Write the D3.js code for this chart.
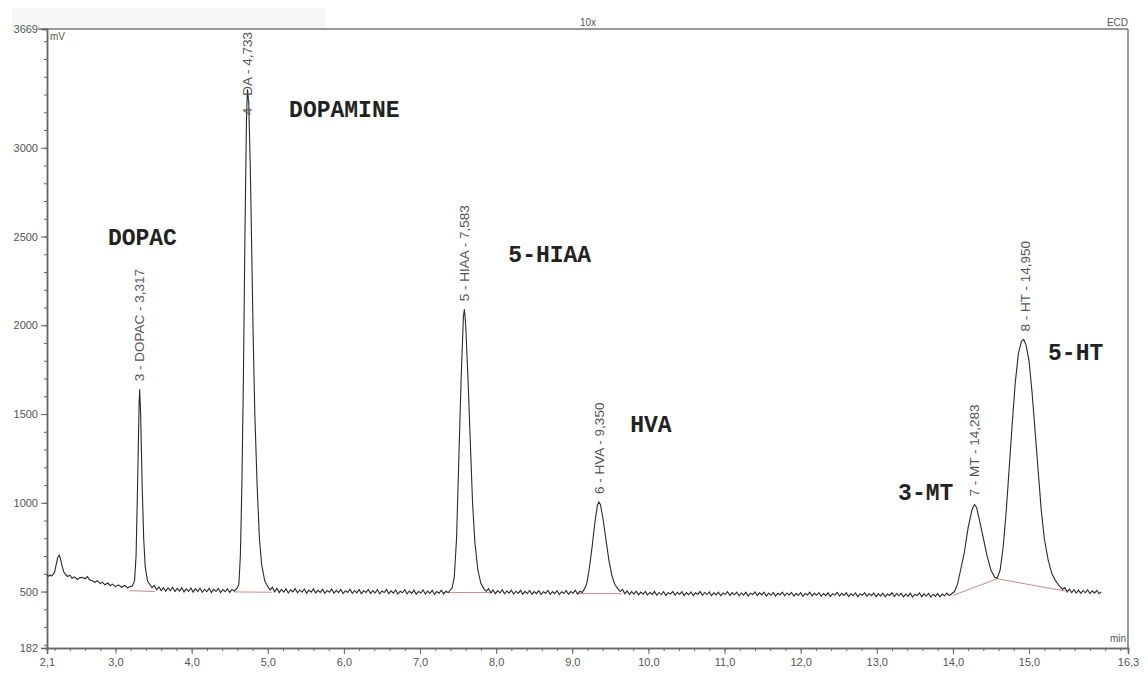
<!DOCTYPE html>
<html lang="en">
<head>
<meta charset="UTF-8">
<title>ECD chromatogram</title>
<script src="https://cdn.jsdelivr.net/npm/d3@7"></script>
<style>
  body { margin: 0; background: #fff; }
  svg text { font-family: "Liberation Sans", Arial, sans-serif; }
</style>
</head>
<body>
<svg></svg>
<script>
var width = 1148, height = 675;

// detector trace, [time (min), signal (mV)]
var trace = [
  [2.10,592],[2.12,586],[2.14,594],[2.16,588],[2.18,596],[2.20,610],[2.22,650],[2.24,690],[2.26,705],[2.28,680],
  [2.30,640],[2.32,612],[2.34,598],[2.37,585],[2.40,592],[2.43,575],[2.46,583],[2.50,568],[2.53,577],[2.56,580],
  [2.60,572],[2.63,584],[2.66,566],[2.70,560],[2.73,552],[2.76,561],[2.80,545],[2.83,553],[2.86,538],[2.90,548],
  [2.93,533],[2.96,542],[3.00,528],[3.04,538],[3.08,524],[3.12,534],[3.16,521],[3.20,530],
  [3.22,530],[3.25,560],[3.27,700],[3.29,1100],[3.31,1560],[3.317,1640],[3.33,1500],[3.35,1100],[3.37,800],[3.39,640],
  [3.42,560],[3.45,540],[3.48,522],[3.51,534],[3.54,510],[3.57,526],[3.60,506],[3.63,522],[3.66,502],[3.69,520],
  [3.72,505],[3.75,524],[3.78,500],[3.81,518],[3.84,503],[3.87,521],[3.90,498],[3.93,515],[3.96,501],[3.99,520],
  [4.02,497],[4.05,516],[4.08,500],[4.11,519],[4.14,496],[4.17,513],[4.20,499],[4.23,518],[4.26,495],[4.29,512],
  [4.32,500],[4.35,517],[4.38,494],[4.41,511],[4.44,499],[4.47,516],[4.50,495],[4.53,512],[4.56,503],[4.60,522],
  [4.62,540],[4.64,700],[4.66,1100],[4.68,1700],[4.70,2500],
  [4.72,3150],[4.733,3330],[4.75,3250],[4.77,2900],[4.79,2400],[4.81,1900],[4.83,1500],[4.86,1100],[4.89,800],[4.92,650],
  [4.96,560],[5.00,528],[5.03,510],[5.06,524],[5.09,498],[5.12,518],[5.15,494],[5.18,512],[5.21,497],[5.24,516],
  [5.27,492],[5.30,510],[5.33,498],[5.36,517],[5.39,493],[5.42,509],[5.45,496],[5.48,514],[5.51,491],[5.54,508],
  [5.57,497],[5.60,515],[5.63,492],[5.66,507],[5.69,495],[5.72,513],[5.75,490],[5.78,506],[5.81,496],[5.84,514],
  [5.87,491],[5.90,507],[5.93,494],[5.96,512],[5.99,489],[6.02,505],[6.05,495],[6.08,513],[6.11,490],[6.14,506],
  [6.17,493],[6.20,511],[6.23,488],[6.26,504],[6.29,495],[6.32,512],[6.35,489],[6.38,505],[6.41,492],[6.44,510],
  [6.47,487],[6.50,503],[6.53,494],[6.56,511],[6.59,488],[6.62,504],[6.65,491],[6.68,509],[6.71,486],[6.74,502],
  [6.77,493],[6.80,510],[6.83,487],[6.86,503],[6.89,490],[6.92,508],[6.95,485],[6.98,501],[7.01,492],[7.04,509],
  [7.07,486],[7.10,502],[7.13,489],[7.16,507],[7.19,484],[7.22,500],[7.25,491],[7.28,508],[7.31,486],[7.34,503],
  [7.37,494],[7.40,510],
  [7.42,520],[7.45,580],[7.48,800],[7.51,1250],[7.54,1700],[7.57,2050],[7.583,2090],[7.60,2000],[7.63,1700],[7.66,1350],
  [7.69,1000],[7.72,780],[7.76,620],[7.80,545],[7.84,515],[7.87,502],[7.90,516],[7.93,493],[7.96,509],[7.99,488],
  [8.02,505],[8.05,492],[8.08,510],[8.11,487],[8.14,503],[8.17,491],[8.20,508],[8.23,486],[8.26,502],[8.29,490],
  [8.32,507],[8.35,485],[8.38,501],[8.41,489],[8.44,506],[8.47,484],[8.50,500],[8.53,488],[8.56,505],[8.59,483],
  [8.62,499],[8.65,490],[8.68,506],[8.71,484],[8.74,500],[8.77,488],[8.80,505],[8.83,483],[8.86,499],[8.89,489],
  [8.92,506],[8.95,484],[8.98,500],[9.01,490],[9.04,507],[9.07,486],[9.10,502],[9.13,495],
  [9.16,515],[9.19,545],[9.22,620],[9.26,750],[9.30,900],[9.33,985],[9.35,1005],[9.37,990],[9.40,920],[9.44,800],
  [9.48,680],[9.52,590],[9.56,540],[9.60,515],[9.63,500],[9.66,512],[9.69,488],[9.72,503],[9.75,484],[9.78,500],
  [9.81,486],[9.84,502],[9.87,481],[9.90,497],[9.93,485],[9.96,501],[9.99,480],[10.02,496],[10.05,484],[10.08,500],
  [10.11,479],[10.14,495],[10.17,483],[10.20,499],[10.23,478],[10.26,494],[10.29,486],[10.32,501],[10.35,480],[10.38,496],
  [10.41,484],[10.44,499],[10.47,478],[10.50,494],[10.53,482],[10.56,498],[10.59,477],[10.62,493],[10.65,485],[10.68,500],
  [10.71,479],[10.74,495],[10.77,483],[10.80,498],[10.83,477],[10.86,493],[10.89,481],[10.92,497],[10.95,476],[10.98,492],
  [11.01,484],[11.04,499],[11.07,478],[11.10,494],[11.13,482],[11.16,497],[11.19,476],[11.22,492],[11.25,480],[11.28,496],
  [11.31,475],[11.34,491],[11.37,483],[11.40,498],[11.43,477],[11.46,493],[11.49,481],[11.52,496],[11.55,475],[11.58,491],
  [11.61,479],[11.64,495],[11.67,474],[11.70,490],[11.73,482],[11.76,497],[11.79,476],[11.82,492],[11.85,480],[11.88,495],
  [11.91,474],[11.94,490],[11.97,478],[12.00,494],[12.03,473],[12.06,489],[12.09,481],[12.12,496],[12.15,475],[12.18,491],
  [12.21,479],[12.24,494],[12.27,473],[12.30,489],[12.33,477],[12.36,493],[12.39,472],[12.42,488],[12.45,480],[12.48,495],
  [12.51,474],[12.54,490],[12.57,478],[12.60,493],[12.63,472],[12.66,488],[12.69,476],[12.72,492],[12.75,471],[12.78,487],
  [12.81,479],[12.84,494],[12.87,473],[12.90,489],[12.93,477],[12.96,492],[12.99,471],[13.02,487],[13.05,475],[13.08,491],
  [13.11,470],[13.14,486],[13.17,478],[13.20,493],[13.23,472],[13.26,488],[13.29,476],[13.32,491],[13.35,470],[13.38,486],
  [13.41,474],[13.44,490],[13.47,469],[13.50,485],[13.53,477],[13.56,492],[13.59,471],[13.62,487],[13.65,475],[13.68,490],
  [13.71,469],[13.74,485],[13.77,473],[13.80,489],[13.83,470],[13.86,486],[13.89,476],[13.92,491],[13.95,478],[13.98,486],
  [14.02,500],[14.06,540],[14.10,620],[14.15,720],[14.20,860],[14.25,960],[14.283,990],[14.31,975],[14.35,900],
  [14.40,800],[14.45,700],[14.50,620],[14.55,580],[14.58,575],[14.62,620],[14.66,750],[14.70,950],[14.74,1200],[14.78,1450],
  [14.82,1680],[14.86,1840],[14.90,1910],[14.93,1920],[14.96,1890],[15.00,1800],[15.04,1620],[15.08,1400],[15.12,1180],[15.16,960],
  [15.20,800],[15.25,680],[15.30,600],[15.35,560],[15.40,530],[15.44,512],[15.47,522],[15.50,498],[15.53,514],[15.56,494],
  [15.59,510],[15.62,492],[15.65,508],[15.68,490],[15.71,506],[15.74,493],[15.77,509],[15.80,489],[15.83,504],[15.86,491],
  [15.89,507],[15.92,488],[15.95,498]
];

// integrated peaks
var peakNo = [3, 4, 5, 6, 7, 8];
var peakName = ["DOPAC", "DA", "HIAA", "HVA", "MT", "HT"];
var peakTime = [3.317, 4.733, 7.583, 9.350, 14.283, 14.950];
var peakTop = [1640, 3330, 2090, 1005, 990, 1920];

// integration baselines, [time, mV] polylines
var baselines = [
  [[3.18, 505], [3.52, 500]],
  [[4.55, 498], [5.05, 496]],
  [[7.30, 494], [7.95, 495]],
  [[9.05, 490], [9.65, 488]],
  [[14.00, 478], [14.58, 572], [15.47, 503]]
];

// hand-written compound names and where they sit (time, mV)
var compounds = ["DOPAC", "DOPAMINE", "5-HIAA", "HVA", "3-MT", "5-HT"];
var compoundAt = [[2.90, 2452], [5.28, 3173], [8.16, 2357], [9.76, 1399], [13.28, 1016], [15.25, 1804]];

var yMajor = [182, 500, 1000, 1500, 2000, 2500, 3000, 3669];
var xMajor = [2.1, 3, 4, 5, 6, 7, 8, 9, 10, 11, 12, 13, 14, 15, 16.3];

var svg = d3.select("svg").attr("width", width).attr("height", height);

var x = d3.scaleLinear().domain([2.1, 16.3]).range([47, 1128]);
var y = d3.scaleLinear().domain([182, 3669]).range([648, 29]);

var comma = function (f) {
  return function (d) { return d3.format(f)(d).replace(".", ","); };
};

// faint header strip
svg.append("rect").attr("x", 12).attr("y", 8).attr("width", 314).attr("height", 20).attr("fill", "#f7f7f7");

// frame top and right
svg.append("line").attr("x1", 38).attr("x2", 1128).attr("y1", 29).attr("y2", 29)
  .attr("stroke", "#777").attr("stroke-width", 1.5);
svg.append("line").attr("x1", 1128).attr("x2", 1128).attr("y1", 29).attr("y2", 648)
  .attr("stroke", "#777").attr("stroke-width", 1.5);

// y axis
var yMinor = svg.append("g").attr("transform", "translate(47,0)")
  .call(d3.axisLeft(y).tickValues(d3.range(200, 3669, 100)).tickSize(3).tickFormat(""));
var yAx = svg.append("g").attr("transform", "translate(47,0)")
  .call(d3.axisLeft(y).tickValues(yMajor).tickSize(6).tickPadding(3).tickFormat(d3.format("d")));

// x axis
var xMinor = svg.append("g").attr("transform", "translate(0,648)")
  .call(d3.axisBottom(x).tickValues(d3.range(2.2, 16.3, 0.2)).tickSize(3).tickFormat(""));
var xAx = svg.append("g").attr("transform", "translate(0,648)")
  .call(d3.axisBottom(x).tickValues(xMajor).tickSize(6).tickPadding(4).tickFormat(comma(".1f")));

[yMinor, yAx, xMinor, xAx].forEach(function (g) {
  g.select(".domain").attr("stroke", "#666").attr("stroke-width", 1.5);
  g.selectAll(".tick line").attr("stroke", "#666");
  g.selectAll(".tick text").attr("fill", "#555").style("font-size", "11px");
});

// corner captions
svg.append("text").attr("x", 50).attr("y", 40).attr("fill", "#555").style("font-size", "10px").text("mV");
svg.append("text").attr("x", 1126).attr("y", 642).attr("text-anchor", "end").attr("fill", "#555").style("font-size", "10px").text("min");
svg.append("text").attr("x", 588).attr("y", 26).attr("text-anchor", "middle").attr("fill", "#555").style("font-size", "10px").text("10x");
svg.append("text").attr("x", 1128).attr("y", 26).attr("text-anchor", "end").attr("fill", "#555").style("font-size", "10px").text("ECD");

// integration baselines
var bl = d3.line().x(function (d) { return x(d[0]); }).y(function (d) { return y(d[1]); });
svg.selectAll("path.base").data(baselines).enter().append("path").attr("class", "base")
  .attr("d", bl).attr("fill", "none").attr("stroke", "#d08a8a").attr("stroke-width", 1);

// trace
svg.append("path").datum(trace).attr("d", bl)
  .attr("fill", "none").attr("stroke", "#2a2a2a").attr("stroke-width", 1.1);

// peak labels, rotated
var fmt3 = comma(".3f");
peakNo.forEach(function (n, i) {
  var px = x(peakTime[i]);
  var start = y(peakTop[i]) - 8;
  var t = svg.append("text").attr("fill", "#555").style("font-size", "13.5px")
    .attr("dy", "0.35em")
    .text(n + " - " + peakName[i] + " - " + fmt3(peakTime[i]));
  var len = t.node().getComputedTextLength();
  if (start - len < 32) start = 32 + len;
  t.attr("transform", "translate(" + px + "," + start + ") rotate(-90)");
});

// compound names
svg.selectAll("text.cmp").data(compounds).enter().append("text").attr("class", "cmp")
  .attr("x", function (d, i) { return x(compoundAt[i][0]); })
  .attr("y", function (d, i) { return y(compoundAt[i][1]); })
  .attr("fill", "#222")
  .style("font-family", "'Liberation Mono', 'Courier New', monospace")
  .style("font-weight", "bold").style("font-size", "23px")
  .text(function (d) { return d; });
</script>
</body>
</html>
